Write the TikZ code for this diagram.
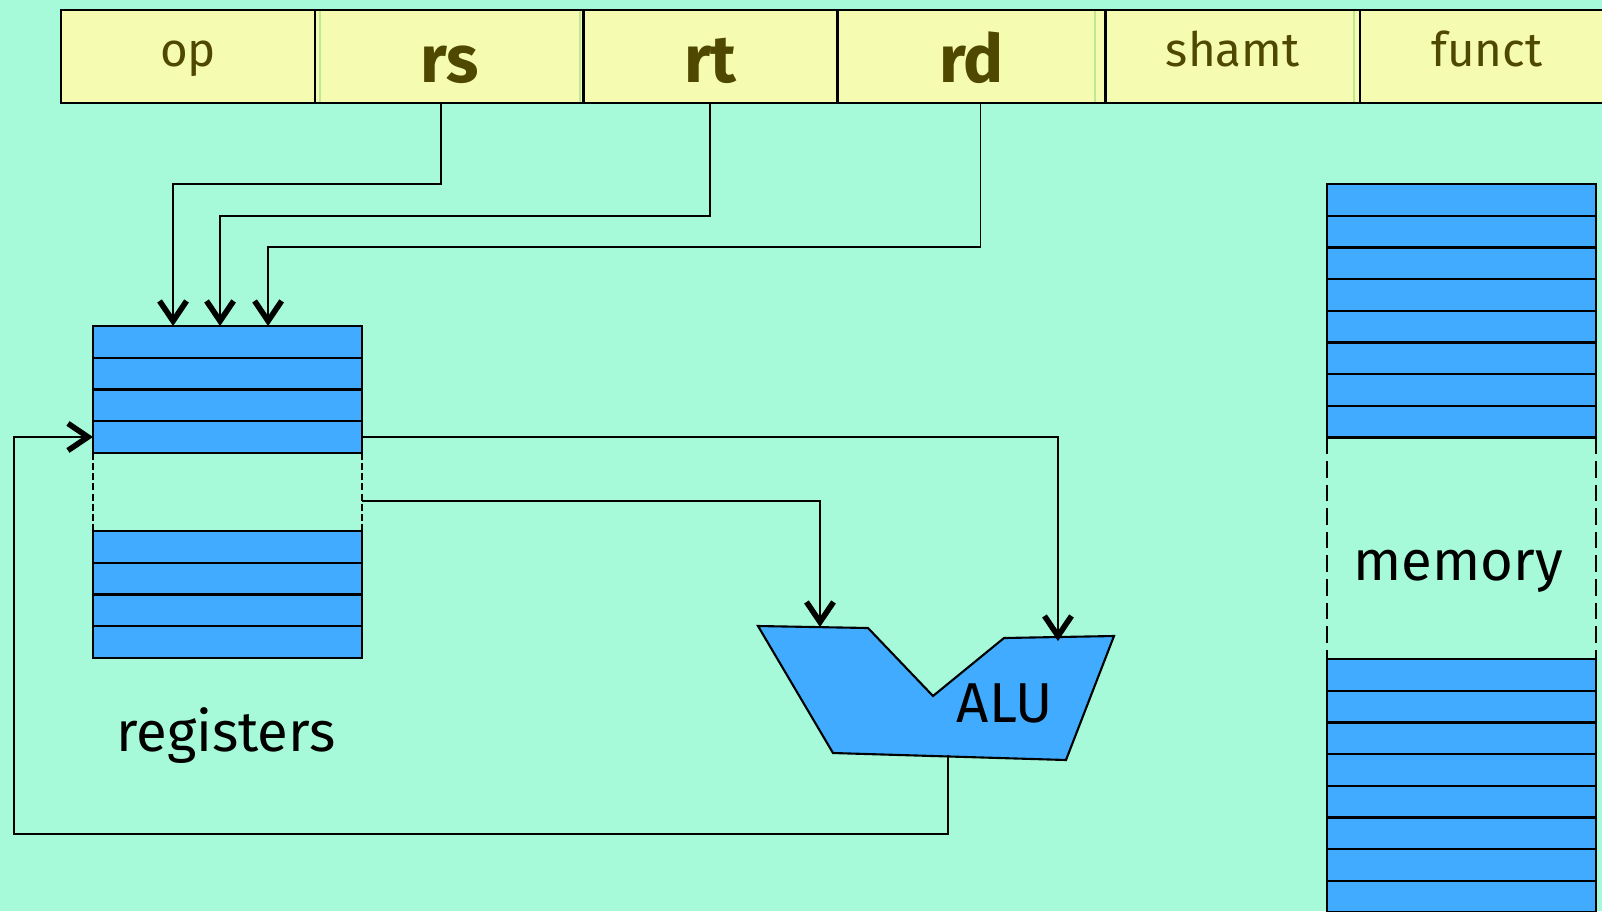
\documentclass[tikz,border=0pt]{standalone}
\usepackage{fontspec}
\setmainfont{Fira Sans}
\usetikzlibrary{arrows.meta, positioning}
\definecolor{bgmint}{RGB}{166, 250, 217}
\definecolor{cellyellow}{RGB}{245, 252, 178}
\definecolor{regblue}{RGB}{64, 171, 255}
\definecolor{fieldolive}{RGB}{78, 72, 0}
\definecolor{seamgreen}{RGB}{190, 232, 150}

\tikzset{
  field/.style={draw, line width=0.7pt, fill=cellyellow, text=fieldolive, anchor=north west,
    inner sep=0pt, outer sep=0pt, minimum height=0.93cm, minimum width=2.54cm,
    font=\fontsize{13.5}{16}\selectfont, text height=9.7pt, text depth=4pt},
  wide/.style={minimum width=2.68cm},
  regfield/.style={font=\bfseries\fontsize{19}{22}\selectfont, text height=15pt, text depth=0pt},
  regrow/.style={draw, line width=0.65pt, fill=regblue, anchor=north west, inner sep=0pt,
    outer sep=0pt, minimum width=2.69cm, minimum height=0.317cm},
  wire/.style={line width=0.5pt},
  arr/.style={wire, -{Straight Barb[length=0.2cm, width=0.27cm, line width=1.6pt]}},
  bigtext/.style={font=\fontsize{16}{19}\selectfont, anchor=base}
}

\begin{document}
\begin{tikzpicture}[x=0.01cm, y=-0.01cm]
  \useasboundingbox (0,0) rectangle (1602,911);
  \fill[bgmint] (0,0) rectangle (1602,911);

  % instruction fields
  \node[field] (op) at (61,10) {op};
  \node[field, wide, regfield, right=0pt of op] (rs) {rs};
  \node[field, regfield, right=0pt of rs] (rt) {rt};
  \node[field, wide, regfield, right=0pt of rt] (rd) {rd};
  \node[field, right=0pt of rd] (shamt) {shamt};
  \node[field, right=0pt of shamt] (funct) {funct};
  \foreach \x in {320, 580, 1095, 1354}
    \draw[seamgreen, line width=0.8pt] (\x,11) -- (\x,102);

  % register file
  \foreach \i in {1,...,4}
    \node[regrow] (reg\i) at (93,{326+31.7*(\i-1)}) {};
  \foreach \i in {5,...,8}
    \node[regrow] (reg\i) at (93,{531+31.7*(\i-5)}) {};
  \draw[line width=0.7pt, dash pattern=on 2pt off 0.9pt] (reg4.south west) -- (reg5.north west);
  \draw[line width=0.7pt, dash pattern=on 2pt off 0.9pt] (reg4.south east) -- (reg5.north east);
  \node[bigtext] (regname) at (226,751) {registers};

  % memory
  \foreach \i in {1,...,8}
    \node[regrow] (mem\i) at (1327,{184+31.7*(\i-1)}) {};
  \foreach \i in {9,...,16}
    \node[regrow] (mem\i) at (1327,{659+31.7*(\i-9)}) {};
  \draw[line width=0.7pt, dash pattern=on 4.7pt off 2pt] (mem8.south west) -- (mem9.north west);
  \draw[line width=0.7pt, dash pattern=on 4.7pt off 2pt] (mem8.south east) -- (mem9.north east);
  \node[bigtext] (memname) at (1458,580) {memory};

  % ALU
  \draw[line width=0.6pt, fill=regblue] (758,626) -- (868,628) -- (933,696) -- (1004,638)
    -- (1114,636) -- (1066,760) -- (833,753) -- cycle;
  \node[bigtext] (alu) at (1005,722) {ALU};
  \coordinate (aluA) at (820,627);
  \coordinate (aluB) at (1058,641);
  \coordinate (aluout) at (948,755);

  % register selects
  \draw[arr] ([xshift=-0.08cm]rs.south) -- ++(0,81) -| ([xshift=-0.545cm]reg1.north);
  \draw[arr] (rt.south) -- ++(0,113) -| ([xshift=-0.075cm]reg1.north);
  \draw[arr] ([xshift=0.09cm]rd.south) -- ++(0,144) -| ([xshift=0.405cm]reg1.north);

  % data paths
  \draw[arr] (reg4.east) -| (aluB);
  \draw[arr] ([yshift=-0.48cm]reg4.south east) -| (aluA);
  \draw[arr] (aluout) -- ++(0,79) -| ([xshift=-0.79cm]reg4.west) -- (reg4.west);
\end{tikzpicture}
\end{document}
